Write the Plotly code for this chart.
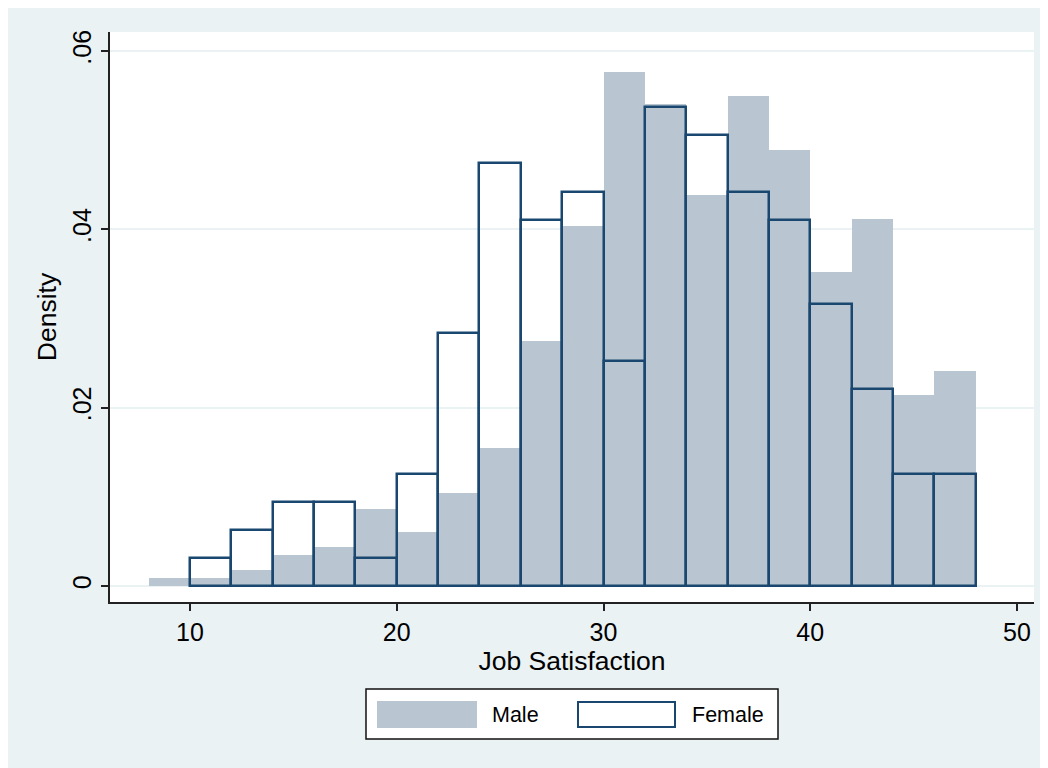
import plotly.graph_objects as go

# Bin centers (bin width 2)
male_bins = [9, 11, 13, 15, 17, 19, 21, 23, 25, 27, 29, 31, 33, 35, 37, 39, 41, 43, 45, 47]
male_density = [0.0009, 0.0009, 0.0018, 0.0035, 0.0044, 0.0086, 0.0061, 0.0104, 0.0155, 0.0275,
                 0.0404, 0.0576, 0.0541, 0.0438, 0.0550, 0.0489, 0.0352, 0.0412, 0.0214, 0.0241]

female_bins = [11, 13, 15, 17, 19, 21, 23, 25, 27, 29, 31, 33, 35, 37, 39, 41, 43, 45, 47]
female_density = [0.0031, 0.0063, 0.0094, 0.0094, 0.0031, 0.0126, 0.0284, 0.0474, 0.0410, 0.0442,
                  0.0252, 0.0537, 0.0506, 0.0442, 0.0410, 0.0316, 0.0221, 0.0126, 0.0126]

y_tickvals = [0, 0.02, 0.04, 0.06]
y_ticktext = ["0", ".02", ".04", ".06"]
x_tickvals = [10, 20, 30, 40, 50]

BIN_W = 2
MALE_COLOR = "#B9C6D1"
NAVY = "#1A476F"
BG = "#EAF2F3"
FONT = "Liberation Sans, Arial, Helvetica, sans-serif"

fig = go.Figure()
fig.add_trace(go.Bar(
    x=male_bins, y=male_density, width=[BIN_W] * len(male_bins),
    marker=dict(color=MALE_COLOR, line=dict(width=0)),
    name="Male", showlegend=False,
))
fig.add_trace(go.Bar(
    x=female_bins, y=female_density, width=[BIN_W] * len(female_bins),
    marker=dict(color="rgba(0,0,0,0)", line=dict(color=NAVY, width=2.5)),
    name="Female", showlegend=False,
))

OFF = 8  # page body margin
W, H = 1048 - OFF, 768 - OFF
L, R, T, B = 110 - OFF, 14, 32 - OFF, 166
pw, ph = W - L - R, H - T - B

def px(x):
    return (x - OFF - L) / pw

def py(y):
    return (H - B - (y - OFF)) / ph

shapes = [
    # outer graph region
    dict(type="rect", xref="paper", yref="paper", x0=px(0), x1=px(1060), y0=py(780), y1=py(0),
         fillcolor=BG, line=dict(width=0), layer="below"),
    # plot region
    dict(type="rect", xref="paper", yref="paper", x0=0, x1=1, y0=0, y1=1,
         fillcolor="white", line=dict(width=0), layer="below"),
    # legend box
    dict(type="rect", xref="paper", yref="paper", x0=px(366), x1=px(778), y0=py(739), y1=py(689),
         fillcolor="white", line=dict(color="#111111", width=1.5)),
    # male swatch
    dict(type="rect", xref="paper", yref="paper", x0=px(377), x1=px(477), y0=py(728), y1=py(701),
         fillcolor=MALE_COLOR, line=dict(width=0)),
    # female swatch
    dict(type="rect", xref="paper", yref="paper", x0=px(578), x1=px(675), y0=py(727), y1=py(702),
         fillcolor="white", line=dict(color=NAVY, width=2)),
]

annotations = [
    dict(text="Male", xref="paper", yref="paper", x=px(490), y=py(715), xanchor="left", yanchor="middle",
         showarrow=False, font=dict(size=21.5, color="black", family=FONT)),
    dict(text="Female", xref="paper", yref="paper", x=px(690), y=py(715), xanchor="left", yanchor="middle",
         showarrow=False, font=dict(size=21.5, color="black", family=FONT)),
]

fig.update_layout(
    width=W, height=H,
    margin=dict(l=L, r=R, t=T, b=B, pad=0),
    paper_bgcolor="white",
    plot_bgcolor="rgba(0,0,0,0)",
    barmode="overlay", bargap=0,
    font=dict(family=FONT, size=25, color="black"),
    shapes=shapes, annotations=annotations,
    showlegend=False,
    xaxis=dict(
        range=[10 - 80 / 20.675, 50 + 17 / 20.675],
        tickvals=x_tickvals, ticks="outside", ticklen=7, tickwidth=1.5, tickcolor="#222222",
        showgrid=False, zeroline=False,
        showline=True, linecolor="#222222", linewidth=2,
        tickfont=dict(size=25),
        title=dict(text="Job Satisfaction", font=dict(size=26.5), standoff=3),
    ),
    yaxis=dict(
        range=[-16 / 8916.7, 0.06 + 19 / 8916.7],
        tickvals=y_tickvals, ticktext=y_ticktext, tickangle=-90,
        ticks="outside", ticklen=7, tickwidth=1.5, tickcolor="#222222",
        showgrid=True, gridcolor=BG, gridwidth=2, zeroline=False,
        showline=True, linecolor="#222222", linewidth=2,
        tickfont=dict(size=25),
        title=dict(text="Density", font=dict(size=26.5), standoff=4),
    ),
)

fig.write_html("out.html")
